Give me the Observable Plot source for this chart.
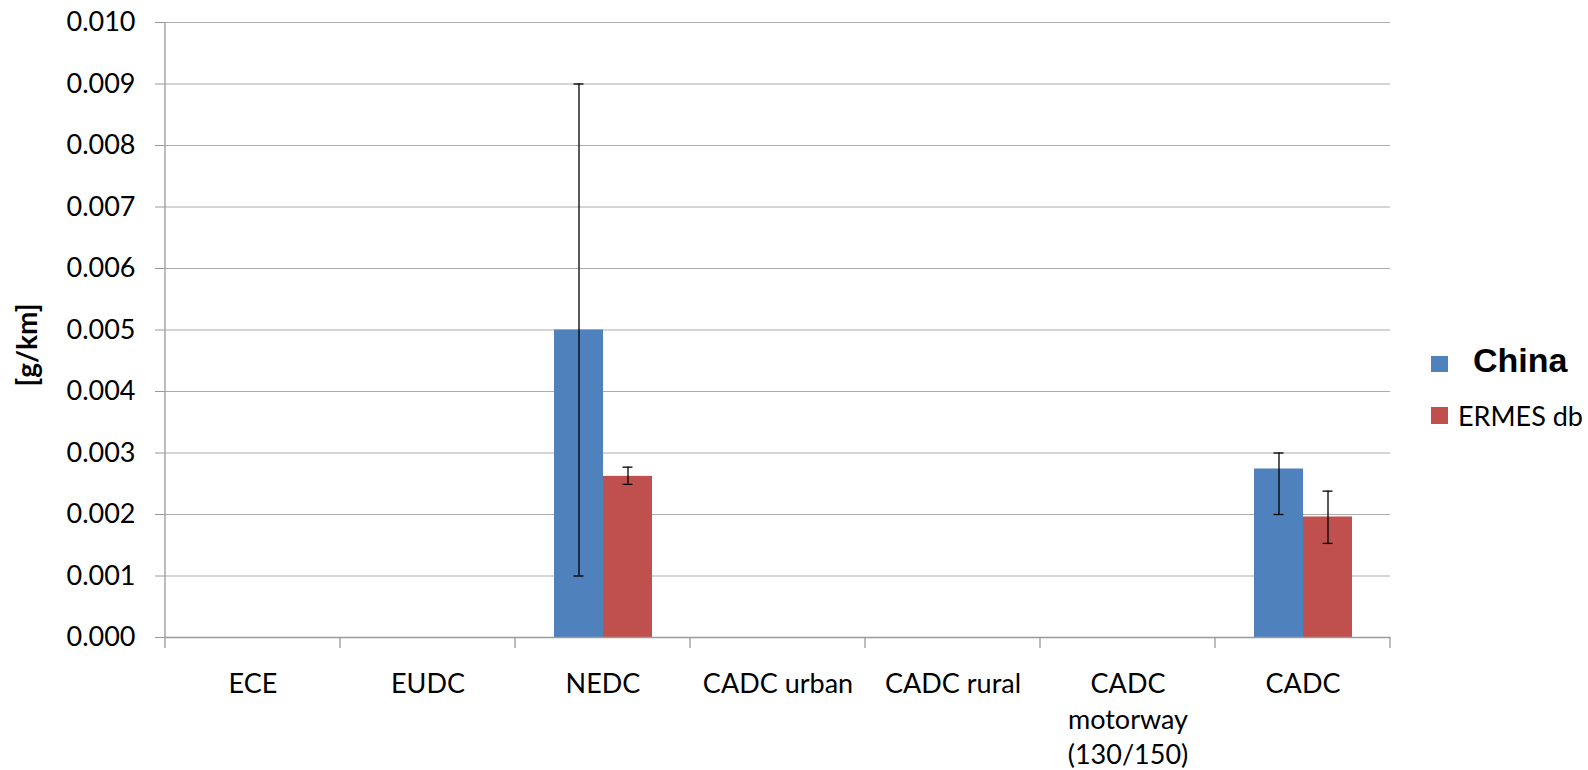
<!DOCTYPE html>
<html>
<head>
<meta charset="utf-8">
<script src="https://cdn.jsdelivr.net/npm/d3@7"></script>
<script src="https://cdn.jsdelivr.net/npm/@observablehq/plot@0.6"></script>
<style>
  body { margin: 0; background: #fff; }
  #wrap { position: relative; width: 1588px; height: 770px; overflow: hidden; }
  #chart, #overlay { position: absolute; left: 0; top: 0; }
</style>
</head>
<body>
<div id="wrap">
  <div id="chart"></div>
  <svg id="overlay" width="1588" height="770">
    <text x="37" y="345" transform="rotate(-90 37 345)" text-anchor="middle"
          style="font: bold 28px Lato">[g/km]</text>
    <rect x="1431" y="356" width="17" height="16" fill="#4f81bd"></rect>
    <text x="1473" y="372" style="font: bold 34px 'Liberation Sans'">China</text>
    <rect x="1431" y="407" width="17" height="17" fill="#c0504d"></rect>
    <text x="1458" y="426" style="font: 27px Lato">ERMES db</text>
  </svg>
</div>
<script>
// driving cycles on the x axis
const categories = ["ECE", "EUDC", "NEDC", "CADC urban", "CADC rural", "CADC\nmotorway\n(130/150)", "CADC"];
const series = ["China", "ERMES db"];
const colors = ["#4f81bd", "#c0504d"];

// [g/km], null = no measurement
const china     = [null, null, 0.005,   null, null, null, 0.00274];
const chinaLow  = [null, null, 0.001,   null, null, null, 0.0020];
const chinaHigh = [null, null, 0.009,   null, null, null, 0.0030];

const ermes     = [null, null, 0.00262, null, null, null, 0.00196];
const ermesLow  = [null, null, 0.00249, null, null, null, 0.00153];
const ermesHigh = [null, null, 0.00277, null, null, null, 0.00238];

const yTicks = [0, 0.001, 0.002, 0.003, 0.004, 0.005, 0.006, 0.007, 0.008, 0.009, 0.010];

// flat table for Plot; keep the empty cycles too so every facet exists
let rows = [];
categories.forEach((c, i) => {
  rows.push({cycle: c, series: "China", value: china[i], low: chinaLow[i], high: chinaHigh[i]});
  rows.push({cycle: c, series: "ERMES db", value: ermes[i], low: ermesLow[i], high: ermesHigh[i]});
});

const gridColor = "#acacac";
const axisColor = "#9a9a9a";

let chart = Plot.plot({
  width: 1588,
  height: 770,
  marginLeft: 163,
  marginRight: 196,
  marginTop: 22,
  marginBottom: 133,
  style: {fontFamily: "Lato", background: "#fff", color: "#000"},
  fx: {domain: categories, padding: 0, label: null},
  x: {domain: series, paddingInner: 0, paddingOuter: 0.756, axis: null},
  y: {domain: [0, 0.010], label: null},
  color: {domain: series, range: colors},
  marks: [
    Plot.gridY(yTicks, {stroke: gridColor, strokeOpacity: 1, strokeWidth: 1.2}),
    Plot.axisY(yTicks, {tickFormat: d3.format(".3f"), tickSize: 10, tickPadding: 20, fontSize: 27, stroke: axisColor, label: null}),
    Plot.axisFx({anchor: "bottom", tickSize: 0, tickPadding: 31, fontSize: 27, lineHeight: 1.3, label: null}),
    Plot.barY(rows, {fx: "cycle", x: "series", y: "value", fill: "series"}),
    Plot.ruleY([0], {stroke: axisColor, strokeWidth: 1.3}),
    Plot.ruleX(rows, {fx: "cycle", x: "series", y1: "low", y2: "high", stroke: "#000", strokeWidth: 1.3}),
    Plot.tickY(rows, {fx: "cycle", x: "series", y: "low", stroke: "#000", strokeWidth: 1.3, insetLeft: 19.5, insetRight: 19.5}),
    Plot.tickY(rows, {fx: "cycle", x: "series", y: "high", stroke: "#000", strokeWidth: 1.3, insetLeft: 19.5, insetRight: 19.5})
  ]
});

document.getElementById("chart").append(chart);

// Excel-style axis line on the left and category separator ticks below the axis
const fx = chart.scale("fx");
const y = chart.scale("y");
const y0 = y.apply(0);
let edges = categories.map((c) => fx.apply(c));
edges.push(edges[edges.length - 1] + fx.step);

const svg = d3.select(chart);
svg.append("line")
  .attr("x1", edges[0]).attr("x2", edges[0])
  .attr("y1", y.apply(0.010)).attr("y2", y0)
  .attr("stroke", axisColor).attr("stroke-width", 1.3);
svg.append("g")
  .selectAll("line")
  .data(edges)
  .join("line")
  .attr("x1", (d) => d).attr("x2", (d) => d)
  .attr("y1", y0).attr("y2", y0 + 11)
  .attr("stroke", axisColor).attr("stroke-width", 1.3);
</script>
</body>
</html>
